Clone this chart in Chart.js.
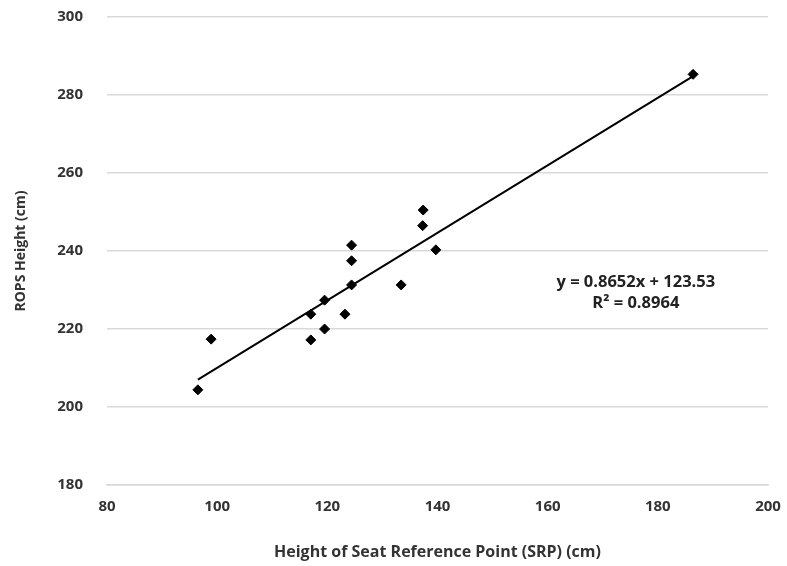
<!DOCTYPE html>
<html>
<head>
<meta charset="utf-8">
<script src="https://cdn.jsdelivr.net/npm/chart.js@4"></script>
<style>
  html, body { margin: 0; padding: 0; background: #fff; }
  #wrap { width: 787px; height: 566px; }
</style>
</head>
<body>
<div id="wrap"><canvas id="myChart" width="787" height="566"></canvas></div>
<script>
// SRP height (cm) vs ROPS height (cm)
const srpHeight = [96.5, 98.9, 117.0, 117.0, 119.5, 119.5, 123.2, 124.4, 124.4, 124.4, 133.4, 137.3, 137.4, 139.7, 186.4];
const ropsHeight = [204.4, 217.4, 217.2, 223.8, 220.0, 227.4, 223.8, 231.3, 237.5, 241.5, 231.3, 246.5, 250.5, 240.3, 285.3];

// trendline end points as drawn in the figure
const trendX = [96.5, 186.5];
const trendY = [207.0, 284.9];

const equationText = ['y = 0.8652x + 123.53', 'R² = 0.8964'];

const points = srpHeight.map((x, i) => ({ x: x, y: ropsHeight[i] }));
const trend = trendX.map((x, i) => ({ x: x, y: trendY[i] }));

const fontFamily = "'Open Sans', 'Liberation Sans', sans-serif";
const textColor = '#333333';

const equationLabel = {
  id: 'equationLabel',
  afterDatasetsDraw(chart) {
    const { ctx, scales } = chart;
    const x = scales.x.getPixelForValue(176);
    ctx.save();
    ctx.fillStyle = '#222';
    ctx.font = "bold 16.5px " + fontFamily;
    ctx.textAlign = 'center';
    ctx.textBaseline = 'middle';
    ctx.fillText(equationText[0], x, scales.y.getPixelForValue(232.0));
    ctx.fillText(equationText[1], x, scales.y.getPixelForValue(226.7));
    ctx.restore();
  }
};

const ctx = document.getElementById('myChart').getContext('2d');
new Chart(ctx, {
  type: 'scatter',
  data: {
    datasets: [
      {
        label: 'ROPS',
        data: points,
        pointStyle: 'rectRot',
        pointRadius: 5,
        pointBackgroundColor: '#000',
        pointBorderColor: '#000',
        showLine: false
      },
      {
        label: 'Linear',
        data: trend,
        showLine: true,
        borderColor: '#000',
        borderWidth: 2,
        pointRadius: 0
      }
    ]
  },
  options: {
    responsive: false,
    animation: false,
    layout: { padding: { top: 17, right: 19, left: 9, bottom: 0 } },
    plugins: {
      legend: { display: false },
      tooltip: { enabled: false }
    },
    scales: {
      x: {
        type: 'linear',
        min: 80,
        max: 200,
        afterFit: (scale) => { scale.height = 81; },
        ticks: {
          stepSize: 20,
          color: textColor,
          padding: 3,
          font: { family: fontFamily, size: 15, weight: 'bold' }
        },
        grid: { display: false, drawTicks: true, tickLength: 10, tickColor: 'rgba(0,0,0,0)' },
        border: { display: true, color: '#d9d9d9', width: 1.5 },
        title: {
          display: true,
          text: 'Height of Seat Reference Point (SRP) (cm)',
          color: textColor,
          padding: { top: 8, bottom: 4 },
          font: { family: fontFamily, size: 16, weight: 'bold' }
        }
      },
      y: {
        min: 180,
        max: 300,
        afterFit: (scale) => { scale.width = 98; },
        ticks: {
          stepSize: 20,
          color: textColor,
          padding: 8,
          font: { family: fontFamily, size: 15, weight: 'bold' }
        },
        grid: { color: '#d9d9d9', lineWidth: 1.5, drawTicks: true, tickLength: 16, tickColor: 'rgba(0,0,0,0)' },
        border: { display: false },
        title: {
          display: true,
          text: 'ROPS Height (cm)',
          color: textColor,
          padding: { bottom: 14 },
          font: { family: fontFamily, size: 14, weight: 'bold' }
        }
      }
    }
  },
  plugins: [equationLabel]
});
</script>
</body>
</html>
